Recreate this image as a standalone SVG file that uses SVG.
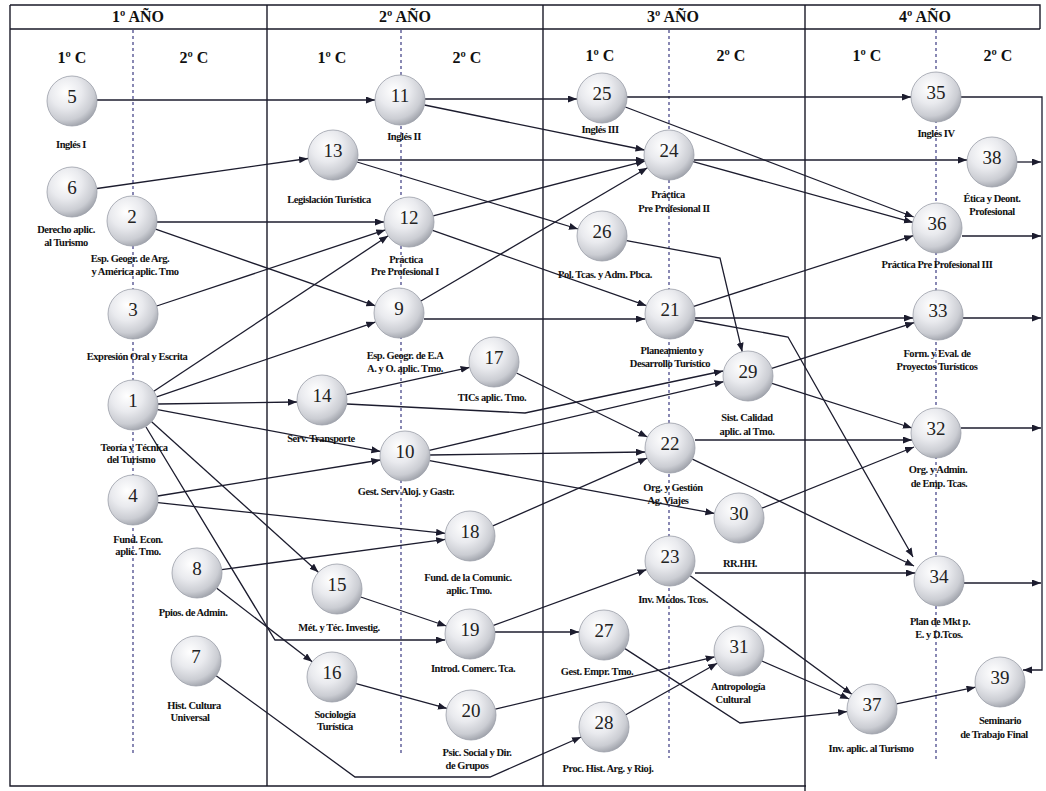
<svg xmlns="http://www.w3.org/2000/svg" width="1046" height="791" viewBox="0 0 1046 791">
<defs>
<radialGradient id="ball" cx="38%" cy="32%" r="70%">
<stop offset="0%" stop-color="#ffffff"/>
<stop offset="45%" stop-color="#e9eaee"/>
<stop offset="80%" stop-color="#cbcdd3"/>
<stop offset="100%" stop-color="#a3a6ae"/>
</radialGradient>
<marker id="ah" markerUnits="userSpaceOnUse" markerWidth="10" markerHeight="8" refX="9" refY="3.5" orient="auto">
<path d="M0,0 L9,3.5 L0,7 z" fill="#1c1c2e"/>
</marker>
<style>
.frame{stroke:#1a1a28;stroke-width:1.4;fill:none}
.dash{stroke:#4b4a8c;stroke-width:1.3;stroke-dasharray:3 3;fill:none}
.c{stroke:#1c1c2e;stroke-width:1.3;fill:none}
.a{marker-end:url(#ah)}
.n circle{fill:url(#ball);stroke:#9a9ea8;stroke-width:0.8}
.num{font-family:"Liberation Serif",serif;font-size:19px;text-anchor:middle;fill:#222}
.lbl{font-family:"Liberation Serif",serif;font-weight:bold;font-size:10.5px;letter-spacing:-0.45px;text-anchor:middle;fill:#111}
.hd{font-family:"Liberation Serif",serif;font-weight:bold;font-size:16px;text-anchor:middle;fill:#111}
</style>
</defs>
<rect width="1046" height="791" fill="#ffffff"/>
<g id="frame">
<path class="frame" d="M10,5 H1040 V29 M10,29 H1040 M10,5 V786 H806 M267,5 V786 M543,5 V786 M805,5 V791"/>
<path class="dash" d="M133,30 V754 M401,30 V755 M669,30 V758 M936,30 V760"/>
<text class="hd" x="138" y="22">1º AÑO</text>
<text class="hd" x="405" y="22">2º AÑO</text>
<text class="hd" x="673" y="22">3º AÑO</text>
<text class="hd" x="925" y="22">4º AÑO</text>
<text class="hd" x="72" y="63">1º C</text>
<text class="hd" x="194" y="63">2º C</text>
<text class="hd" x="332" y="63">1º C</text>
<text class="hd" x="467" y="63">2º C</text>
<text class="hd" x="600" y="61">1º C</text>
<text class="hd" x="731" y="61">2º C</text>
<text class="hd" x="867" y="61">1º C</text>
<text class="hd" x="998" y="61">2º C</text>
</g>
<g id="connectors">
<line class="c a" x1="97" y1="100" x2="375" y2="100"/>
<line class="c a" x1="425" y1="99" x2="577" y2="99"/>
<line class="c a" x1="627" y1="97" x2="911" y2="97"/>
<line class="c a" x1="424.5" y1="105" x2="644.5" y2="150"/>
<line class="c a" x1="358" y1="160" x2="644.5" y2="160"/>
<line class="c a" x1="694" y1="160" x2="967" y2="160"/>
<line class="c a" x1="357" y1="162" x2="578" y2="229"/>
<line class="c a" x1="97" y1="188.5" x2="308" y2="158.5"/>
<line class="c a" x1="157" y1="222" x2="384" y2="222"/>
<line class="c a" x1="155.6" y1="229.2" x2="375.4" y2="305.8"/>
<line class="c a" x1="156.7" y1="306" x2="385.3" y2="229.9"/>
<line class="c a" x1="153.8" y1="391.2" x2="388.2" y2="235.8"/>
<line class="c a" x1="156.7" y1="396.9" x2="375.3" y2="322.1"/>
<line class="c a" x1="158" y1="404" x2="297" y2="402"/>
<line class="c a" x1="157.6" y1="409.6" x2="380.4" y2="451.4"/>
<line class="c a" x1="151.6" y1="421.7" x2="318.4" y2="572.3"/>
<polyline class="c a" points="146,427 275,640 445,640"/>
<line class="c a" x1="157.7" y1="496" x2="380.3" y2="460"/>
<line class="c a" x1="157.9" y1="502.7" x2="445.1" y2="533.3"/>
<line class="c a" x1="221.8" y1="569.6" x2="445.2" y2="539.4"/>
<line class="c a" x1="216.8" y1="588.3" x2="312.2" y2="661.7"/>
<polyline class="c a" points="216.2,675.7 355,777 490,777 581.1,737"/>
<line class="c a" x1="346.4" y1="394.6" x2="469.6" y2="367.4"/>
<polyline class="c a" points="347,404 525,413 723,371"/>
<line class="c a" x1="429.3" y1="450.3" x2="723.6" y2="381.7"/>
<line class="c a" x1="430" y1="455" x2="645" y2="452"/>
<line class="c a" x1="429.6" y1="460.6" x2="714.4" y2="513.4"/>
<line class="c a" x1="516.5" y1="373" x2="647.5" y2="437"/>
<line class="c a" x1="492.9" y1="525.9" x2="647.1" y2="458.1"/>
<line class="c a" x1="360.7" y1="597" x2="446.3" y2="626"/>
<line class="c a" x1="493.5" y1="625.4" x2="646.5" y2="569.6"/>
<line class="c a" x1="495" y1="632" x2="579" y2="632"/>
<line class="c a" x1="356.1" y1="683.6" x2="446.9" y2="708.4"/>
<line class="c a" x1="495.3" y1="709.2" x2="714.7" y2="656.8"/>
<line class="c a" x1="625.8" y1="714.7" x2="717.2" y2="663.3"/>
<polyline class="c a" points="625,648.6 740,723 847.1,711.6"/>
<line class="c a" x1="690.2" y1="575.8" x2="851.8" y2="694.2"/>
<line class="c a" x1="761.9" y1="661" x2="849.1" y2="699"/>
<line class="c a" x1="896.5" y1="703.8" x2="975.5" y2="687.2"/>
<line class="c a" x1="433.2" y1="215.8" x2="644.8" y2="161.2"/>
<line class="c a" x1="432.6" y1="230.3" x2="646.4" y2="305.7"/>
<line class="c a" x1="420.5" y1="301.3" x2="647.5" y2="167.7"/>
<line class="c a" x1="424" y1="319" x2="645" y2="319"/>
<line class="c a" x1="695" y1="318" x2="913" y2="318"/>
<line class="c a" x1="693.8" y1="306.3" x2="913.2" y2="235.7"/>
<line class="c a" x1="625.3" y1="107" x2="913.7" y2="217"/>
<line class="c a" x1="693.1" y1="161.6" x2="912.9" y2="222.4"/>
<polyline class="c a" points="626.6,240.6 720,258 742.2,351.7"/>
<polyline class="c a" points="694.5,320 788,337 913,557"/>
<line class="c a" x1="692.4" y1="459.1" x2="914" y2="566"/>
<line class="c a" x1="695" y1="573" x2="915" y2="573"/>
<line class="c a" x1="771.8" y1="368.4" x2="914.2" y2="322.6"/>
<line class="c a" x1="771.9" y1="383.3" x2="912" y2="428"/>
<line class="c a" x1="695" y1="440" x2="912" y2="440"/>
<line class="c a" x1="762" y1="508.1" x2="914" y2="447"/>
<polyline class="c a" points="961,97 1042,97 1042,670 1023,670"/>
<line class="c a" x1="1017" y1="162" x2="1041" y2="162"/>
<line class="c a" x1="962" y1="236" x2="1041" y2="236"/>
<line class="c a" x1="963" y1="318" x2="1041" y2="318"/>
<line class="c a" x1="961" y1="428" x2="1041" y2="428"/>
<line class="c a" x1="964" y1="583" x2="1041" y2="583"/>
</g>
<g id="n5" class="n"><circle cx="72" cy="101" r="25"/><text class="num" x="72" y="103">5</text><text class="lbl" x="71" y="148">Inglés I</text></g>
<g id="n6" class="n"><circle cx="72" cy="192" r="25"/><text class="num" x="72" y="194">6</text><text class="lbl" x="66" y="233">Derecho aplic.</text><text class="lbl" x="66" y="246">al Turismo</text></g>
<g id="n2" class="n"><circle cx="132" cy="221" r="25"/><text class="num" x="132" y="223">2</text><text class="lbl" x="130" y="262">Esp. Geogr. de Arg.</text><text class="lbl" x="135" y="275">y América aplic. Tmo</text></g>
<g id="n3" class="n"><circle cx="133" cy="314" r="25"/><text class="num" x="133" y="316">3</text><text class="lbl" x="137" y="360">Expresión Oral y Escrita</text></g>
<g id="n1" class="n"><circle cx="133" cy="405" r="25"/><text class="num" x="133" y="407">1</text><text class="lbl" x="134" y="451">Teoría y Técnica</text><text class="lbl" x="131" y="463">del Turismo</text></g>
<g id="n4" class="n"><circle cx="133" cy="500" r="25"/><text class="num" x="133" y="502">4</text><text class="lbl" x="138" y="543">Fund. Econ.</text><text class="lbl" x="138" y="555">aplic. Tmo.</text></g>
<g id="n8" class="n"><circle cx="197" cy="573" r="25"/><text class="num" x="197" y="575">8</text><text class="lbl" x="193" y="616">Ppios. de Admin.</text></g>
<g id="n7" class="n"><circle cx="196" cy="661" r="25"/><text class="num" x="196" y="663">7</text><text class="lbl" x="194" y="709">Hist. Cultura</text><text class="lbl" x="190" y="721">Universal</text></g>
<g id="n11" class="n"><circle cx="400" cy="100" r="25"/><text class="num" x="400" y="102">11</text><text class="lbl" x="404" y="140">Inglés II</text></g>
<g id="n13" class="n"><circle cx="333" cy="155" r="25"/><text class="num" x="333" y="157">13</text><text class="lbl" x="329" y="203">Legislación Turística</text></g>
<g id="n12" class="n"><circle cx="409" cy="222" r="25"/><text class="num" x="409" y="224">12</text><text class="lbl" x="406" y="263">Práctica</text><text class="lbl" x="405" y="275">Pre Profesional I</text></g>
<g id="n9" class="n"><circle cx="399" cy="313" r="25"/><text class="num" x="399" y="315">9</text><text class="lbl" x="405" y="359">Esp. Geogr. de E.A</text><text class="lbl" x="405" y="372">A. y O. aplic. Tmo.</text></g>
<g id="n14" class="n"><circle cx="322" cy="400" r="25"/><text class="num" x="322" y="402">14</text><text class="lbl" x="321" y="442">Serv. Transporte</text></g>
<g id="n17" class="n"><circle cx="494" cy="362" r="25"/><text class="num" x="494" y="364">17</text><text class="lbl" x="492" y="401">TICs aplic. Tmo.</text></g>
<g id="n10" class="n"><circle cx="405" cy="456" r="25"/><text class="num" x="405" y="458">10</text><text class="lbl" x="406" y="495">Gest. Serv Aloj. y Gastr.</text></g>
<g id="n18" class="n"><circle cx="470" cy="536" r="25"/><text class="num" x="470" y="538">18</text><text class="lbl" x="468" y="581">Fund. de la Comunic.</text><text class="lbl" x="469" y="594">aplic. Tmo.</text></g>
<g id="n15" class="n"><circle cx="337" cy="589" r="25"/><text class="num" x="337" y="591">15</text><text class="lbl" x="339" y="631">Mét. y Téc. Investig.</text></g>
<g id="n19" class="n"><circle cx="470" cy="634" r="25"/><text class="num" x="470" y="636">19</text><text class="lbl" x="473" y="672">Introd. Comerc. Tca.</text></g>
<g id="n16" class="n"><circle cx="332" cy="677" r="25"/><text class="num" x="332" y="679">16</text><text class="lbl" x="335" y="718">Sociología</text><text class="lbl" x="335" y="730">Turística</text></g>
<g id="n20" class="n"><circle cx="471" cy="715" r="25"/><text class="num" x="471" y="717">20</text><text class="lbl" x="477" y="756">Psic. Social y Dir.</text><text class="lbl" x="467" y="769">de Grupos</text></g>
<g id="n25" class="n"><circle cx="602" cy="98" r="25"/><text class="num" x="602" y="100">25</text><text class="lbl" x="600" y="133">Inglés III</text></g>
<g id="n24" class="n"><circle cx="669" cy="155" r="25"/><text class="num" x="669" y="157">24</text><text class="lbl" x="668" y="198">Práctica</text><text class="lbl" x="674" y="212">Pre Profesional II</text></g>
<g id="n26" class="n"><circle cx="602" cy="236" r="25"/><text class="num" x="602" y="238">26</text><text class="lbl" x="605" y="278">Pol. Tcas. y Adm. Pbca.</text></g>
<g id="n21" class="n"><circle cx="670" cy="314" r="25"/><text class="num" x="670" y="316">21</text><text class="lbl" x="672" y="354">Planeamiento y</text><text class="lbl" x="670" y="367">Desarrollo Turístico</text></g>
<g id="n29" class="n"><circle cx="748" cy="376" r="25"/><text class="num" x="748" y="378">29</text><text class="lbl" x="747" y="421">Sist. Calidad</text><text class="lbl" x="747" y="435">aplic. al Tmo.</text></g>
<g id="n22" class="n"><circle cx="670" cy="448" r="25"/><text class="num" x="670" y="450">22</text><text class="lbl" x="673" y="491">Org. y Gestión</text><text class="lbl" x="668" y="504">Ag. Viajes</text></g>
<g id="n30" class="n"><circle cx="739" cy="518" r="25"/><text class="num" x="739" y="520">30</text><text class="lbl" x="740" y="567">RR.HH.</text></g>
<g id="n23" class="n"><circle cx="670" cy="561" r="25"/><text class="num" x="670" y="563">23</text><text class="lbl" x="673" y="603">Inv. Mcdos. Tcos.</text></g>
<g id="n27" class="n"><circle cx="604" cy="635" r="25"/><text class="num" x="604" y="637">27</text><text class="lbl" x="597" y="675">Gest. Empr. Tmo.</text></g>
<g id="n31" class="n"><circle cx="739" cy="651" r="25"/><text class="num" x="739" y="653">31</text><text class="lbl" x="738" y="690">Antropología</text><text class="lbl" x="733" y="703">Cultural</text></g>
<g id="n28" class="n"><circle cx="604" cy="727" r="25"/><text class="num" x="604" y="729">28</text><text class="lbl" x="608" y="772">Proc. Hist. Arg. y Rioj.</text></g>
<g id="n35" class="n"><circle cx="936" cy="97" r="25"/><text class="num" x="936" y="99">35</text><text class="lbl" x="936" y="137">Inglés IV</text></g>
<g id="n38" class="n"><circle cx="992" cy="162" r="25"/><text class="num" x="992" y="164">38</text><text class="lbl" x="992" y="202">Ética y Deont.</text><text class="lbl" x="992" y="215">Profesional</text></g>
<g id="n36" class="n"><circle cx="937" cy="228" r="25"/><text class="num" x="937" y="230">36</text><text class="lbl" x="937" y="268">Práctica Pre Profesional III</text></g>
<g id="n33" class="n"><circle cx="938" cy="315" r="25"/><text class="num" x="938" y="317">33</text><text class="lbl" x="937" y="357">Form. y Eval. de</text><text class="lbl" x="937" y="370">Proyectos Turísticos</text></g>
<g id="n32" class="n"><circle cx="936" cy="433" r="25"/><text class="num" x="936" y="435">32</text><text class="lbl" x="938" y="473">Org. y Admin.</text><text class="lbl" x="939" y="487">de Emp. Tcas.</text></g>
<g id="n34" class="n"><circle cx="939" cy="581" r="25"/><text class="num" x="939" y="583">34</text><text class="lbl" x="940" y="625">Plan de Mkt p.</text><text class="lbl" x="939" y="638">E. y D.Tcos.</text></g>
<g id="n37" class="n"><circle cx="872" cy="709" r="25"/><text class="num" x="872" y="711">37</text><text class="lbl" x="871" y="752">Inv. aplic. al Turismo</text></g>
<g id="n39" class="n"><circle cx="1000" cy="682" r="25"/><text class="num" x="1000" y="684">39</text><text class="lbl" x="1000" y="724">Seminario</text><text class="lbl" x="994" y="738">de Trabajo Final</text></g>
</svg>
